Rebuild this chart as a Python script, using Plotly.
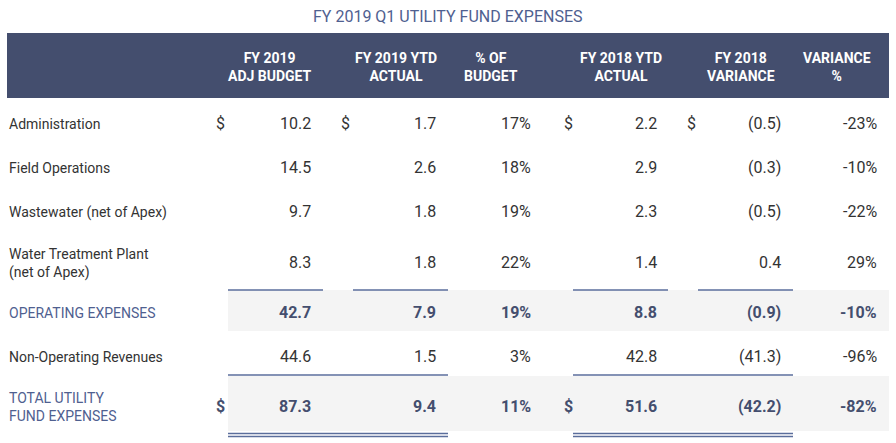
import plotly.graph_objects as go

# ---------------- data ----------------
title = "FY 2019 Q1 UTILITY FUND EXPENSES"
headers = ["FY 2019<br>ADJ BUDGET", "FY 2019 YTD<br>ACTUAL", "% OF<br>BUDGET",
           "FY 2018 YTD<br>ACTUAL", "FY 2018<br>VARIANCE", "VARIANCE<br>%"]
row_labels = ["Administration", "Field Operations", "Wastewater (net of Apex)",
              "Water Treatment Plant<br>(net of Apex)", "OPERATING EXPENSES",
              "Non-Operating Revenues", "TOTAL UTILITY<br>FUND EXPENSES"]
adj_budget_2019 = [10.2, 14.5, 9.7, 8.3, 42.7, 44.6, 87.3]
ytd_actual_2019 = [1.7, 2.6, 1.8, 1.8, 7.9, 1.5, 9.4]
pct_of_budget = [17, 18, 19, 22, 19, 3, 11]
ytd_actual_2018 = [2.2, 2.9, 2.3, 1.4, 8.8, 42.8, 51.6]
variance_2018 = [-0.5, -0.3, -0.5, 0.4, -0.9, -41.3, -42.2]
variance_pct = [-23, -10, -22, 29, -10, -96, -82]

# ---------------- layout constants ----------------
W, H = 896, 443
LABEL_FONT = "Roboto, sans-serif"
NUM_FONT = "Roboto, sans-serif"
DARK = "#444e6e"
BLUE = "#4f6090"
TEXT = "#333333"
LINE = "#5b6e9c"
BAND = "#f4f4f4"

row_y = [123, 167, 211, 262, 312, 356, 406]
header_x = [270, 396, 491, 621, 741, 837]
col_right = [313, 438, 533, 659, 783, 879]
dollar_x = [220, 345, None, 568, 691, None]
col_span = [(228, 323), (353, 448), None, (573, 668), (698, 793), None]
dollar_cols = {0: [0, 1, 3, 4], 6: [0, 3]}
bold_rows = {4, 6}
blue_rows = {4, 6}


def fmt_num(v):
    return f"({abs(v):.1f})" if v < 0 else f"{v:.1f}"


def fmt_pct(v):
    return f"{v:d}%"


columns = [
    [fmt_num(v) for v in adj_budget_2019],
    [fmt_num(v) for v in ytd_actual_2019],
    [fmt_pct(v) for v in pct_of_budget],
    [fmt_num(v) for v in ytd_actual_2018],
    [fmt_num(v) for v in variance_2018],
    [fmt_pct(v) for v in variance_pct],
]

fig = go.Figure()
fig.add_trace(go.Scatter(x=[0, W], y=[0, H], mode="markers",
                         marker=dict(opacity=0), hoverinfo="skip", showlegend=False))

shapes = []
annotations = []

shapes.append(dict(type="rect", xref="x", yref="y", x0=7, x1=889, y0=33, y1=98,
                   fillcolor=DARK, line=dict(width=0), layer="below"))
shapes.append(dict(type="rect", xref="x", yref="y", x0=228, x1=889, y0=290, y1=331,
                   fillcolor=BAND, line=dict(width=0), layer="below"))
shapes.append(dict(type="rect", xref="x", yref="y", x0=228, x1=889, y0=376, y1=431,
                   fillcolor=BAND, line=dict(width=0), layer="below"))

for span in col_span:
    if span:
        shapes.append(dict(type="line", xref="x", yref="y", x0=span[0], x1=span[1],
                           y0=290, y1=290, line=dict(color=LINE, width=1.6)))
for a, b in [(228, 448), (573, 793)]:
    shapes.append(dict(type="line", xref="x", yref="y", x0=a, x1=b, y0=375, y1=375,
                       line=dict(color=LINE, width=1.6)))
    for yy in (433.5, 436.5):
        shapes.append(dict(type="line", xref="x", yref="y", x0=a, x1=b, y0=yy, y1=yy,
                           line=dict(color=LINE, width=1.3)))

annotations.append(dict(x=448, y=16, xref="x", yref="y", text=title, showarrow=False,
                        xanchor="center", yanchor="middle",
                        font=dict(family=LABEL_FONT, size=16, color=BLUE)))
for hx, h in zip(header_x, headers):
    annotations.append(dict(x=hx, y=67, xref="x", yref="y", text=f"<b>{h}</b>",
                            showarrow=False, xanchor="center", yanchor="middle",
                            font=dict(family=LABEL_FONT, size=14, color="white")))

for r, lab in enumerate(row_labels):
    y = row_y[r]
    annotations.append(dict(x=7, y=y + 1, xref="x", yref="y",
                            text=lab, showarrow=False, xanchor="left", yanchor="middle",
                            align="left",
                            font=dict(family=LABEL_FONT, size=14,
                                      color=BLUE if r in blue_rows else TEXT)))
    bold = r in bold_rows
    for c, col in enumerate(columns):
        txt = col[r]
        annotations.append(dict(x=col_right[c], y=y, xref="x", yref="y",
                                text=f"<b>{txt}</b>" if bold else txt,
                                showarrow=False, xanchor="right", yanchor="middle",
                                font=dict(family=NUM_FONT, size=16,
                                          color=DARK if bold else TEXT)))
    for c in dollar_cols.get(r, []):
        annotations.append(dict(x=dollar_x[c], y=y, xref="x", yref="y",
                                text="<b>$</b>" if bold else "$",
                                showarrow=False, xanchor="center", yanchor="middle",
                                font=dict(family=NUM_FONT, size=16,
                                          color=DARK if bold else TEXT)))

fig.update_layout(
    width=W, height=H, margin=dict(l=0, r=0, t=0, b=0),
    paper_bgcolor="white", plot_bgcolor="white",
    xaxis=dict(range=[0, W], visible=False, fixedrange=True),
    yaxis=dict(range=[H, 0], visible=False, fixedrange=True),
    shapes=shapes, annotations=annotations, showlegend=False,
)

fig.write_html("out.html", config={"displayModeBar": False},
               post_script="document.body.style.margin='0';document.body.style.padding='0';")
